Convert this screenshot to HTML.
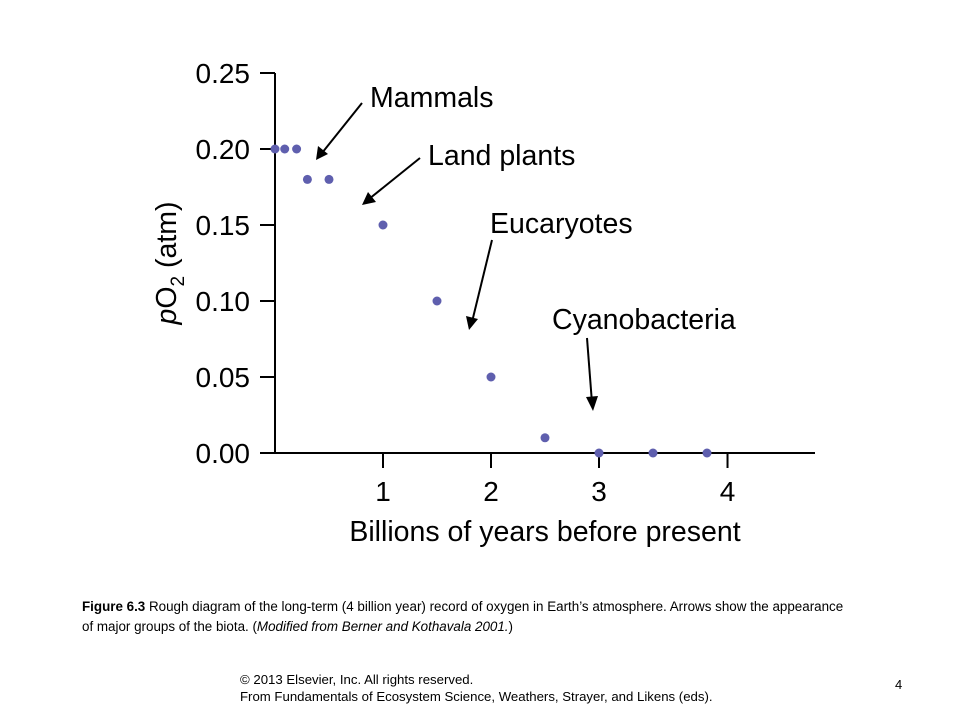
<!DOCTYPE html>
<html><head><meta charset="utf-8"><style>
body{margin:0;background:#fff;width:960px;height:720px;overflow:hidden;font-family:"Liberation Sans",Arial,sans-serif}
svg{position:absolute;left:0;top:0}
.cap{position:absolute;left:82px;top:597px;font-size:13.4px;line-height:20px;color:#000;width:770px}
.foot{position:absolute;left:240px;top:671px;font-size:13.2px;line-height:17px;color:#000}
.pg{position:absolute;left:895px;top:677px;font-size:13px}
</style></head><body>
<svg width="960" height="720">
<g id="axes"></g><g id="marks"></g>
<g font-size="28.5" fill="#000">
<text x="370" y="107">Mammals</text>
<text x="428" y="165">Land plants</text>
<text x="490" y="233">Eucaryotes</text>
<text x="552" y="329">Cyanobacteria</text>
</g>
<g stroke="#000" stroke-width="2" fill="none">
<line x1="362" y1="103" x2="322" y2="153"/>
<line x1="420" y1="158" x2="369" y2="199"/>
<line x1="492" y1="240" x2="472" y2="322"/>
<line x1="587" y1="338" x2="592" y2="403"/>
</g>
<g fill="#000">
<polygon points="316,160 318,146 328,154"/>
<polygon points="362,205 368,192 376,202"/>
<polygon points="469,330 466,316 478,319"/>
<polygon points="593,411 586,397 598,396"/>
</g>
<text x="545" y="541" font-size="28.5" text-anchor="middle">Billions of years before present</text>
<text transform="translate(176,263) rotate(-90)" font-size="28.5" text-anchor="middle"><tspan font-style="italic">p</tspan>O<tspan font-size="19" dy="8">2</tspan><tspan dy="-8"> (atm)</tspan></text>
</svg>
<div class="cap"><b>Figure 6.3</b> Rough diagram of the long-term (4 billion year) record of oxygen in Earth’s atmosphere. Arrows show the appearance of major groups of the biota. (<i>Modified from Berner and Kothavala 2001.</i>)</div>
<div class="foot">© 2013 Elsevier, Inc. All rights reserved.<br>From Fundamentals of Ecosystem Science, Weathers, Strayer, and Likens (eds).</div>
<div class="pg">4</div>
<script>
const ageValues=[0,0.09,0.2,0.3,0.5,1,1.5,2,2.5,3,3.5,4];
const po2Values=[0.2,0.2,0.2,0.18,0.18,0.15,0.10,0.05,0.01,0,0,0];
const yTicks=[0,0.05,0.10,0.15,0.20,0.25];
const yTickLabels=["0.00","0.05","0.10","0.15","0.20","0.25"];
const xTicks=[1,2,3,4.19];
const xTickLabels=["1","2","3","4"];
const X=v=>275+v*108;
const Y=v=>453-v*1520;
const NS="http://www.w3.org/2000/svg";
const axes=document.getElementById('axes'),marks=document.getElementById('marks');
function mk(tag,attrs,parent){const e=document.createElementNS(NS,tag);for(const k in attrs)e.setAttribute(k,attrs[k]);parent.appendChild(e);return e;}
let l=mk('line',{x1:275,y1:Y(0.25),x2:275,y2:Y(0),stroke:'#000','stroke-width':2},axes);


l=mk('line',{x1:260,y1:Y(0),x2:815,y2:Y(0),stroke:'#000','stroke-width':2},axes);


yTicks.forEach((t,i)=>{
 const tk=mk('line',{x1:260,x2:275,y1:Y(t),y2:Y(t),stroke:'#000','stroke-width':2},axes);
 
 
 const tx=mk('text',{x:250,y:Y(t)+10,'font-size':28,'text-anchor':'end'},axes);
 tx.textContent=yTickLabels[i];
 
 
});
xTicks.forEach((t,i)=>{
 const tk=mk('line',{x1:X(t),x2:X(t),y1:Y(0),y2:Y(0)+15,stroke:'#000','stroke-width':2},axes);
 
 
 const tx=mk('text',{x:X(t),y:501,'font-size':28,'text-anchor':'middle'},axes);
 tx.textContent=xTickLabels[i];
 
 
});
ageValues.forEach((a,i)=>{
 const c=mk('circle',{cx:X(a),cy:Y(po2Values[i]),r:4.5,fill:'#5f5fae'},marks);
 
 
});
</script>
</body></html>
